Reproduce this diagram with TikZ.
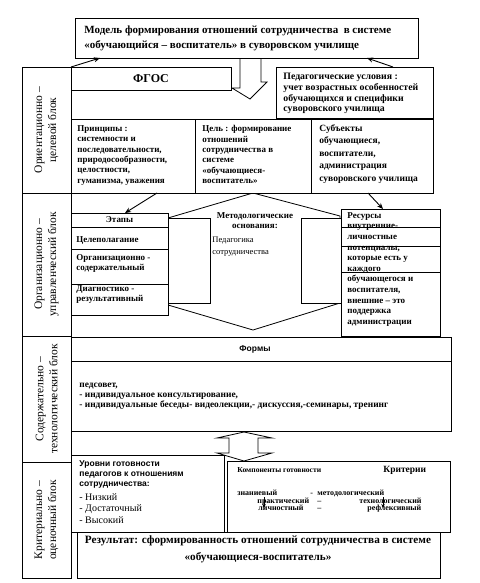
\documentclass[tikz,border=0pt]{standalone}
\usepackage{fontspec}
\setmainfont{Liberation Serif}
\newfontfamily\arialfont{Liberation Sans}
\usetikzlibrary{arrows.meta, calc}

\begin{document}
\begin{tikzpicture}[
    x=1pt, y=-1pt,
    >=Stealth,
    line width=0.8pt,
    frame/.style = {draw, fill=white, anchor=north west, inner sep=0pt, outer sep=0pt},
    txt/.style = {anchor=north west, inner sep=0pt, align=left, execute at begin node=\strut},
    word/.style = {anchor=base west, inner sep=0pt, font=\fontsize{8}{9}\selectfont\bfseries},
    side/.style = {rotate=90, align=center, inner sep=0pt, font=\fontsize{11.5}{14}\selectfont},
    arr/.style = {-{Stealth[length=6pt,width=5pt]}, line width=0.9pt},
    tiny_arr/.style = {-{Stealth[length=4pt,width=3.5pt]}, line width=0.7pt},
]

% Фон и рамка рисунка
\fill[white] (0,0) rectangle (479,583);
\useasboundingbox (0,0) rectangle (479,583);

% Стрелка-указатель под заголовком
\draw[fill=white] (240,58) -- (240,88) -- (232,88) -- (250,99) -- (267,82) -- (261,82) -- (261,58);

% Шестиугольник методологических оснований
\draw (168,218) -- (253,193) -- (340,216) -- (340,303) -- (253,330) -- (168,305) -- cycle;

% 1. Заголовок
\node[frame, minimum width=343pt, minimum height=40pt] (title) at (75,18) {};
\node[txt, font=\fontsize{11}{15}\selectfont\bfseries] (title_txt) at (84,25)
    {Модель формирования отношений сотрудничества \ в системе\\
     «обучающийся – воспитатель» в суворовском училище};

% 2. Блоки слева
\node[frame, minimum width=49pt, minimum height=126pt] (blk1) at (22,67) {};
\node[side] (blk1_txt) at (blk1.center) {Ориентационно –\\целевой блок};
\node[frame, minimum width=49pt, minimum height=143pt] (blk2) at (22,193) {};
\node[side] (blk2_txt) at (blk2.center) {Организационно –\\управленческий блок};
\node[frame, minimum width=49pt, minimum height=126pt] (blk3) at (22,336) {};
\node[side] (blk3_txt) at (blk3.center) {Содержательно –\\технологический блок};
\node[frame, minimum width=49pt, minimum height=116pt] (blk4) at (22,462) {};
\node[side] (blk4_txt) at (blk4.center) {Критериально –\\оценочный блок};

% 3. Ориентационно-целевой блок
\node[frame, minimum width=160pt, minimum height=23pt] (fgos) at (71,67) {};
\node[font=\fontsize{12}{14}\selectfont\bfseries] (fgos_txt) at (fgos.center) {ФГОС};

\node[frame, minimum width=157pt, minimum height=51pt] (usl) at (276,67) {};
\node[txt, font=\fontsize{9.8}{10.7}\selectfont\bfseries] (usl_txt) at (283,73)
    {Педагогические условия :\\учет возрастных особенностей\\
     обучающихся и специфики\\суворовского училища};

\node[frame, minimum width=124pt, minimum height=74pt] (princ) at (71,119) {};
\node[txt, font=\fontsize{9}{10.4}\selectfont\bfseries] (princ_txt) at (77,125)
    {Принципы :\\системности и\\последовательности,\\природосообразности,\\
     целостности,\\гуманизма, уважения};

\node[frame, minimum width=116pt, minimum height=74pt] (cel) at (195,119) {};
\node[txt, font=\fontsize{9}{10.4}\selectfont\bfseries] (cel_txt) at (202,125)
    {Цель : формирование\\отношений\\сотрудничества в\\системе\\
     «обучающиеся-\\воспитатель»};

\node[frame, minimum width=122pt, minimum height=74pt] (subj) at (311,119) {};
\node[txt, font=\fontsize{9.5}{12.5}\selectfont\bfseries] (subj_txt) at (319,124)
    {Субъекты\\обучающиеся,\\воспитатели,\\администрация\\суворовского училища};

% 4. Организационно-управленческий блок
\node[frame, minimum width=42pt, minimum height=85pt] (met_l) at (168,218) {};
\node[frame, minimum width=40pt, minimum height=85pt] (met_r) at (301,218) {};
\node[txt, anchor=north, align=center, font=\fontsize{9}{10}\selectfont\bfseries] (met_txt) at (255,212)
    {Методологические\\основания:};
\node[txt, font=\fontsize{8.5}{12}\selectfont] (ped_txt) at (212,237)
    {Педагогика\\сотрудничества};

\node[frame, minimum width=97pt, minimum height=14pt] (etap) at (71,213) {};
\node[font=\fontsize{9}{10}\selectfont\bfseries] (etap_txt) at (etap.center) {Этапы};
\node[frame, minimum width=97pt, minimum height=22pt] (etap1) at (71,227) {};
\node[txt, font=\fontsize{9}{10.5}\selectfont\bfseries] (etap1_txt) at (76,235) {Целеполагание};
\node[frame, minimum width=97pt, minimum height=35pt] (etap2) at (71,249) {};
\node[txt, font=\fontsize{9}{10.5}\selectfont\bfseries] (etap2_txt) at (76,254)
    {Организационно -\\содержательный};
\node[frame, minimum width=97pt, minimum height=31pt] (etap3) at (71,284) {};
\node[txt, font=\fontsize{9}{10.5}\selectfont\bfseries] (etap3_txt) at (76,285)
    {Диагностико -\\результативный};

\node[frame, minimum width=99pt, minimum height=127pt] (res) at (341,209) {};
\draw (341,227) -- (440,227);
\draw (341,246) -- (440,246);
\draw (341,272) -- (440,272);
\node[txt, font=\fontsize{9}{10.6}\selectfont\bfseries] (res_txt) at (347,212)
    {Ресурсы\\внутренние-\\личностные\\потенциалы,\\которые есть у\\каждого\\
     обучающегося и\\воспитателя,\\внешние – это\\поддержка\\администрации};

% 5. Содержательно-технологический блок
\node[frame, minimum width=380pt, minimum height=24pt] (form_head) at (71,337) {};
\node[font=\fontsize{8.5}{10}\selectfont\arialfont\bfseries] (form_head_txt) at (255,349) {Формы};
\node[frame, minimum width=380pt, minimum height=70pt] (form) at (71,361) {};
\node[txt, font=\fontsize{9.4}{10}\selectfont\bfseries] (form_txt) at (79,383)
    {педсовет,\\- индивидуальное консультирование,\\
     - индивидуальные беседы- видеолекции,- дискуссия,-семинары, тренинг};

% Двойная стрелка
\draw[fill=white] (244,432) -- (272,438) -- (258,438) -- (258,453) -- (272,453) -- (244,461)
    -- (217,453) -- (229,453) -- (229,438) -- (217,438) -- cycle;

% 6. Критериально-оценочный блок
\node[frame, minimum width=153pt, minimum height=77pt] (urov) at (71,455) {};
\node[txt, font=\fontsize{8.5}{10}\selectfont\arialfont\bfseries] (urov_txt) at (79,460.5)
    {Уровни готовности\\педагогов к отношениям\\сотрудничества:};
\node[txt, font=\fontsize{10}{11.5}\selectfont] (urov_list) at (79,493)
    {- Низкий\\- Достаточный\\- Высокий};

\node[frame, minimum width=223pt, minimum height=71pt] (komp) at (227,461) {};
\node[word, font=\fontsize{7.6}{9}\selectfont\bfseries] (komp_head) at (237,472.5) {Компоненты готовности};
\node[word, font=\fontsize{9.5}{10}\selectfont\bfseries] (krit_head) at (383,472.5) {Критерии};
\node[word] (k1) at (237,495) {знаниевый};
\node[word] (d1) at (310,495) {-};
\node[word] (c1) at (317,495) {методологический};
\node[word] (k2) at (257,503) {практический};
\node[word] (d2) at (317,503) {–};
\node[word] (c2) at (359,503) {технологический};
\node[word] (k3) at (258,510.5) {личностный};
\node[word] (d3) at (317,510.5) {–};
\node[word] (c3) at (367,510.5) {рефлексивный};
\coordinate (ka_top) at (264,497);
\coordinate (ka_bot) at (264,508);
\coordinate (ca_top) at (383,497);
\coordinate (ca_bot) at (383,508);
\draw[tiny_arr] (ka_top) -- (ka_bot);
\draw[tiny_arr] (ca_top) -- (ca_bot);

\node[frame, minimum width=363pt, minimum height=46pt] (rez) at (77,532) {};
\node[txt, anchor=north, align=center, font=\fontsize{11.2}{17}\selectfont\bfseries] (rez_txt) at (258,535)
    {Результат: сформированность отношений сотрудничества в системе\\
     «обучающиеся-воспитатель»};

% 7. Стрелки
\draw[arr] (fgos.north west) -- ($(title.south west)+(25,0)$);
\draw[arr] ($(usl.north west)+(117,0)$) -- ($(title.south west)+(292,0)$);
\draw[arr] ($(princ.south west)+(86,0)$) -- ($(etap.north west)+(54,0)$);
\draw[arr] ($(subj.south west)+(57,0)$) -- ($(res.north west)+(42,0)$);

\end{tikzpicture}
\end{document}
